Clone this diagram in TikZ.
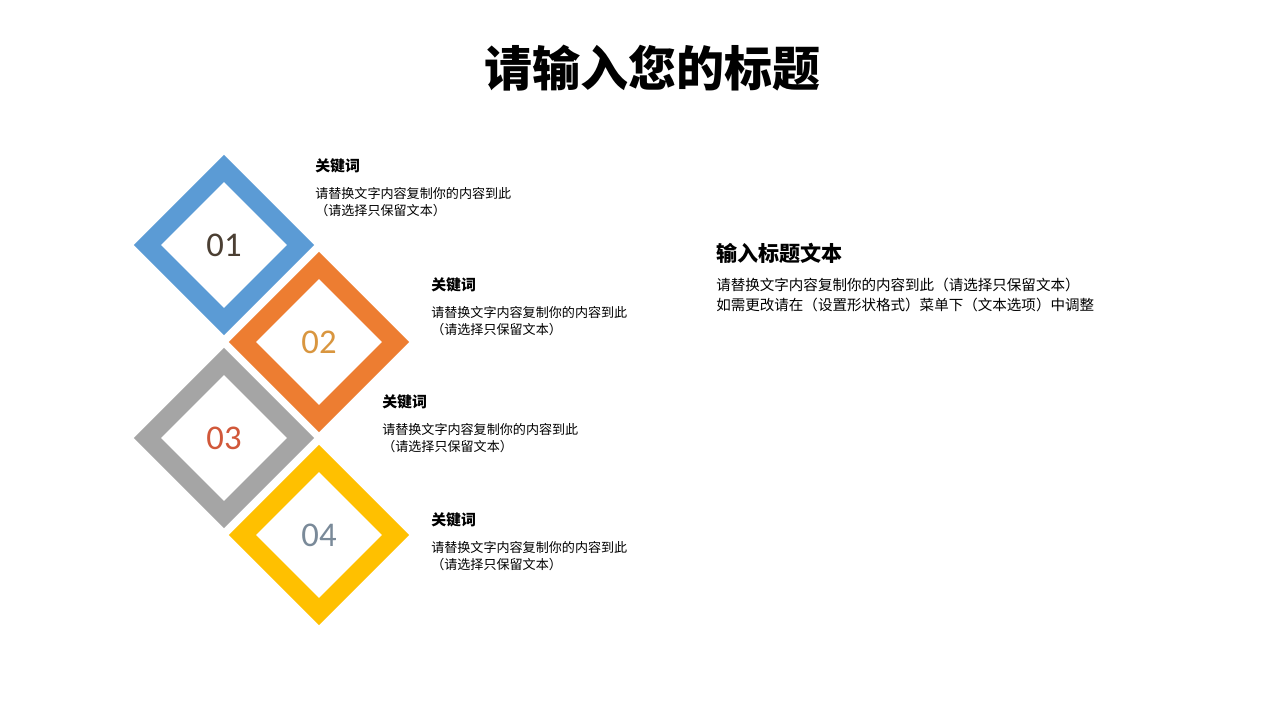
\documentclass[tikz,border=0pt]{standalone}
\usepackage{fontspec}
\newfontfamily\cjk{Noto Sans CJK SC}
\newfontfamily\numfont{Carlito}
\usetikzlibrary{shapes.geometric,positioning}
\definecolor{tileblue}{HTML}{5B9BD5}
\definecolor{tileorange}{HTML}{ED7D31}
\definecolor{tilegray}{HTML}{A5A5A5}
\definecolor{tileyellow}{HTML}{FFC000}
\definecolor{numdark}{HTML}{4B3F33}
\definecolor{numorange}{HTML}{D9963F}
\definecolor{numred}{HTML}{D1583A}
\definecolor{numslate}{HTML}{7A8A99}
\tikzset{
	every node/.style={font=\cjk},
	tile/.style={diamond, draw=#1, line width=14.3pt, fill=white, inner sep=0pt,
		minimum width=120.75pt, minimum height=120.75pt,
		font=\numfont\fontsize{26}{26}\selectfont},
	keyword/.style={anchor=west, inner sep=0pt, font=\cjk\bfseries\fontsize{11.2}{13}\selectfont},
	bodytext/.style={inner sep=0pt, align=left, font=\cjk\fontsize{9.8}{13.2}\selectfont}
}
\begin{document}
\begin{tikzpicture}[x=0.75pt, y=-0.75pt]
	\useasboundingbox[fill=white] (0,0) rectangle (1280,720);

	% Title
	\node[font=\cjk\bfseries\fontsize{36}{40}\selectfont] (title) at (652,68) {请输入您的标题};

	% Diamonds
	\node[tile=tileblue, text=numdark] (t1) at (224,245) {01};
	\node[tile=tileorange, text=numorange] (t2) at (319,342) {02};
	\node[tile=tilegray, text=numred] (t3) at (224,438) {03};
	\node[tile=tileyellow, text=numslate] (t4) at (319,535) {04};

	% Keywords
	\node[keyword] (k1) at (315,166) {关键词};
	\node[keyword] (k2) at (431,285) {关键词};
	\node[keyword] (k3) at (382,402) {关键词};
	\node[keyword] (k4) at (431,520) {关键词};

	\node[bodytext, below=10pt of k1.south west, anchor=north west] (b1) {请替换文字内容复制你的内容到此\\（请选择只保留文本）};
	\node[bodytext, below=10pt of k2.south west, anchor=north west] (b2) {请替换文字内容复制你的内容到此\\（请选择只保留文本）};
	\node[bodytext, below=10pt of k3.south west, anchor=north west] (b3) {请替换文字内容复制你的内容到此\\（请选择只保留文本）};
	\node[bodytext, below=10pt of k4.south west, anchor=north west] (b4) {请替换文字内容复制你的内容到此\\（请选择只保留文本）};

	% Right block
	\node[keyword, font=\cjk\bfseries\fontsize{15.8}{18}\selectfont] (head) at (716,253) {输入标题文本};
	\node[bodytext, font=\cjk\fontsize{10.9}{15}\selectfont, below=11pt of head.south west, anchor=north west] (desc)
		{请替换文字内容复制你的内容到此（请选择只保留文本）\\如需更改请在（设置形状格式）菜单下（文本选项）中调整};
\end{tikzpicture}
\end{document}
